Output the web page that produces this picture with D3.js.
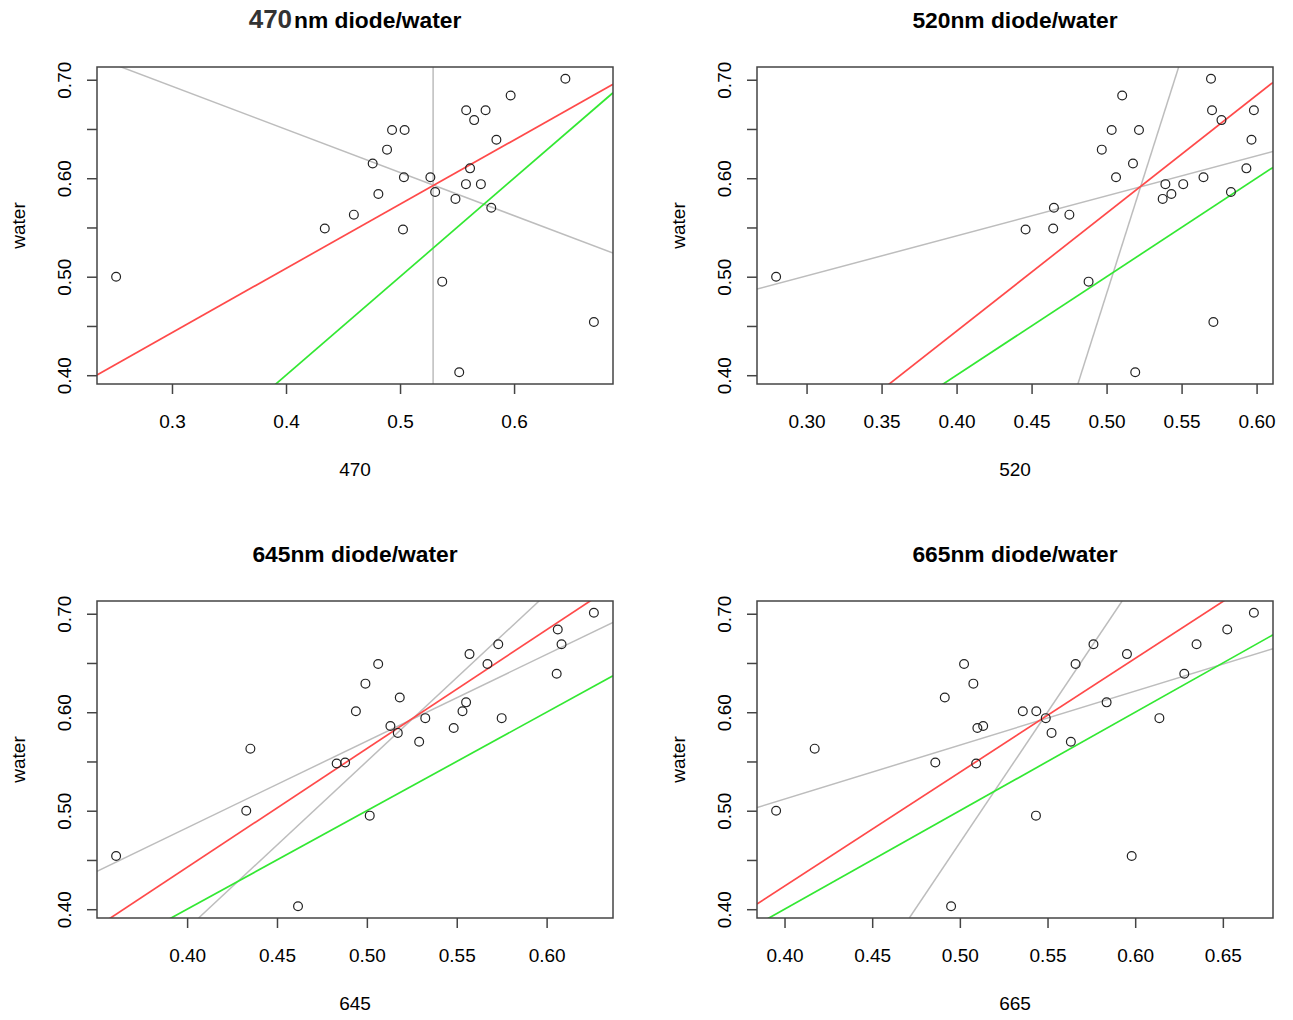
<!DOCTYPE html>
<html>
<head>
<meta charset="utf-8">
<script src="https://cdn.jsdelivr.net/npm/d3@7"></script>
<style>
  html, body { margin: 0; padding: 0; background: #fff; }
  svg { display: block; }
  text { font-family: "Liberation Sans", Arial, Helvetica, sans-serif; fill: #000; }
</style>
</head>
<body>
<svg id="chart" width="1293" height="1020"></svg>
<script>
// ---------------- data ----------------
const wavelengths = ["470", "520", "645", "665"];

// water values (shared by all four panels)
const water = [0.701, 0.684, 0.669, 0.669, 0.659, 0.649, 0.649, 0.639, 0.629, 0.615, 0.610, 0.601, 0.601,
               0.594, 0.594, 0.586, 0.584, 0.579, 0.570, 0.563, 0.549, 0.548, 0.500, 0.495, 0.454, 0.403];

// diode readings, same row order as water
const diode470 = [0.645, 0.597, 0.558, 0.575, 0.565, 0.493, 0.504, 0.5845, 0.4886, 0.476, 0.5614, 0.5034, 0.5266,
                  0.5578, 0.5709, 0.5308, 0.481, 0.5486, 0.580, 0.4595, 0.434, 0.5026, 0.251, 0.537, 0.670, 0.5519];
const diode520 = [0.5696, 0.5104, 0.5703, 0.5982, 0.5766, 0.5034, 0.5216, 0.5966, 0.4968, 0.5176, 0.5932, 0.5063, 0.5646,
                  0.5392, 0.5511, 0.5829, 0.5432, 0.5374, 0.4649, 0.4752, 0.4644, 0.446, 0.2797, 0.488, 0.5712, 0.5191];
const diode645 = [0.6263, 0.6062, 0.5731, 0.6083, 0.5571, 0.5063, 0.5671, 0.6056, 0.4992, 0.5183, 0.5552, 0.4939, 0.5532,
                  0.5325, 0.575, 0.5131, 0.5483, 0.5172, 0.5291, 0.4352, 0.4879, 0.4832, 0.4329, 0.5016, 0.3605, 0.4617];
const diode665 = [0.6677, 0.6525, 0.5762, 0.635, 0.5953, 0.5024, 0.566, 0.628, 0.5077, 0.4914, 0.5837, 0.5359, 0.5436,
                  0.549, 0.6138, 0.5133, 0.510, 0.5523, 0.5633, 0.4172, 0.486, 0.5093, 0.3952, 0.5434, 0.598, 0.495];

// fitted lines: [intercept, slope]
const redFit     = [[0.2476, 0.652], [-0.034, 1.197], [-0.0399, 1.206], [-0.039, 1.156]];   // water = a + b*diode
const greyYonX   = [[0.8248, -0.438], [0.3789, 0.4064], [0.1307, 0.880], [0.2926, 0.548]];  // water = a + b*diode
const greyXonY   = [[0.529, 0], [0.3992, 0.2088], [0.1762, 0.5886], [0.3237, 0.3771]];      // diode = c + d*water
const identityLine = [0, 1];                                                                 // water = diode

// tick values
const xTicks = [
  [0.3, 0.4, 0.5, 0.6],
  [0.30, 0.35, 0.40, 0.45, 0.50, 0.55, 0.60],
  [0.40, 0.45, 0.50, 0.55, 0.60],
  [0.40, 0.45, 0.50, 0.55, 0.60, 0.65]
];
const xTickFormats = [".1f", ".2f", ".2f", ".2f"];
const yTicks = [0.40, 0.45, 0.50, 0.55, 0.60, 0.65, 0.70];
const yTickLabels = ["0.40", "", "0.50", "", "0.60", "", "0.70"];

const diodeSeries = [diode470, diode520, diode645, diode665];

// ---------------- layout ----------------
const svg = d3.select("#chart");
const lefts = [97, 757, 97, 757];
const tops = [67, 67, 601, 601];
const W = 516, H = 317;
const FS = 19;

function pad(ext) {
  const d = (ext[1] - ext[0]) * 0.04;
  return [ext[0] - d, ext[1] + d];
}

wavelengths.forEach((wl, i) => {
  const xs = diodeSeries[i];
  const L = lefts[i], T = tops[i];
  const x = d3.scaleLinear().domain(pad(d3.extent(xs))).range([L, L + W]);
  const y = d3.scaleLinear().domain(pad(d3.extent(water))).range([T + H, T]);

  const g = svg.append("g");
  const clipId = "clip" + i;
  svg.append("clipPath").attr("id", clipId)
    .append("rect").attr("x", L).attr("y", T).attr("width", W).attr("height", H);

  const lines = g.append("g").attr("clip-path", `url(#${clipId})`);
  const [x0, x1] = x.domain();
  const [y0, y1] = y.domain();

  function drawYonX(ab, color, w) {
    lines.append("line")
      .attr("x1", x(x0)).attr("y1", y(ab[0] + ab[1] * x0))
      .attr("x2", x(x1)).attr("y2", y(ab[0] + ab[1] * x1))
      .attr("stroke", color).attr("stroke-width", w);
  }
  function drawXonY(cd, color, w) {
    lines.append("line")
      .attr("x1", x(cd[0] + cd[1] * y0)).attr("y1", y(y0))
      .attr("x2", x(cd[0] + cd[1] * y1)).attr("y2", y(y1))
      .attr("stroke", color).attr("stroke-width", w);
  }
  drawYonX(greyYonX[i], "#bdbdbd", 1.5);
  drawXonY(greyXonY[i], "#bdbdbd", 1.5);
  drawYonX(redFit[i], "#ff4a4a", 1.7);
  drawYonX(identityLine, "#33e833", 1.7);

  // points
  g.append("g").selectAll("circle")
    .data(xs.map((v, k) => [v, water[k]]))
    .join("circle")
    .attr("cx", d => x(d[0])).attr("cy", d => y(d[1]))
    .attr("r", 4.4)
    .attr("fill", "none").attr("stroke", "#222").attr("stroke-width", 1.2);

  // axes
  const fmt = d3.format(xTickFormats[i]);
  const xAxis = g.append("g").attr("transform", `translate(0,${T + H})`)
    .call(d3.axisBottom(x).tickValues(xTicks[i]).tickFormat(fmt).tickSizeInner(10).tickSizeOuter(0).tickPadding(0));
  xAxis.select(".domain").remove();
  xAxis.selectAll(".tick line").attr("stroke", "#444").attr("stroke-width", 1.5);
  xAxis.selectAll(".tick text").attr("font-size", FS).attr("fill", "#000")
    .attr("font-family", '"Liberation Sans", Arial, sans-serif')
    .attr("dy", null).attr("y", 44);

  const yAxis = g.append("g").attr("transform", `translate(${L},0)`)
    .call(d3.axisLeft(y).tickValues(yTicks).tickFormat((d, k) => yTickLabels[k]).tickSizeInner(10).tickSizeOuter(0));
  yAxis.select(".domain").remove();
  yAxis.selectAll(".tick line").attr("stroke", "#444").attr("stroke-width", 1.5);
  yAxis.selectAll(".tick text").attr("font-size", FS).attr("fill", "#000")
    .attr("font-family", '"Liberation Sans", Arial, sans-serif')
    .attr("x", null).attr("dy", null)
    .attr("text-anchor", "middle")
    .attr("transform", "translate(-26,0) rotate(-90)");

  // box
  g.append("rect").attr("x", L).attr("y", T).attr("width", W).attr("height", H)
    .attr("fill", "none").attr("stroke", "#444").attr("stroke-width", 1.5);

  // labels
  g.append("text").attr("x", L + W / 2).attr("y", T + H + 92)
    .attr("text-anchor", "middle").attr("font-size", FS).text(wl);
  g.append("text").attr("transform", `translate(${L - 72},${T + H / 2}) rotate(-90)`)
    .attr("text-anchor", "middle").attr("font-size", FS).text("water");

  const title = g.append("text").attr("x", L + W / 2).attr("y", T - 39)
    .attr("text-anchor", "middle").attr("font-size", 22.8).attr("font-weight", "bold");
  if (i === 0) {
    title.append("tspan").attr("font-size", 26).attr("fill", "#333").text(wl);
    title.append("tspan").attr("dx", 2).text("nm diode/water");
  } else {
    title.text(wl + "nm diode/water");
  }
});
</script>
</body>
</html>
